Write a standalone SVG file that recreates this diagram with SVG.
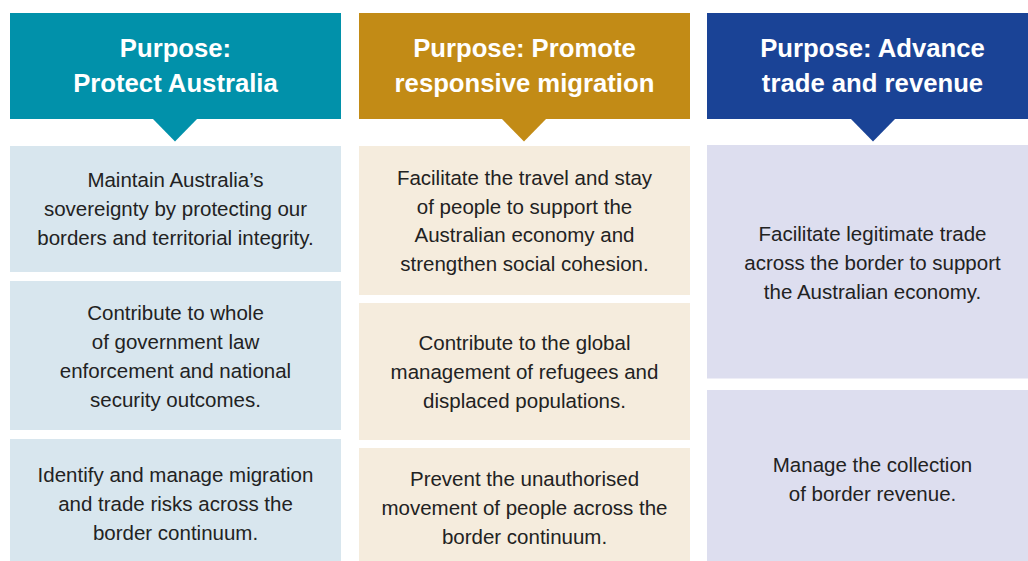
<svg xmlns="http://www.w3.org/2000/svg" width="1028" height="561" viewBox="0 0 1028 561">
  <style>
    .head { font-family: "Liberation Sans", Arial, sans-serif; font-weight: bold; font-size: 25.7px; fill: #ffffff; text-anchor: middle; }
    .body { font-family: "Liberation Sans", Arial, sans-serif; font-size: 20.5px; fill: #222222; text-anchor: middle; }
    .teal { fill: #0191AA; }
    .gold { fill: #C28B16; }
    .navy { fill: #1A4396; }
    .teal-lt { fill: #D8E6EE; }
    .gold-lt { fill: #F5ECDD; }
    .navy-lt { fill: #DDDEEF; }
  </style>
  <rect width="1028" height="561" fill="#ffffff"/>

  <!-- Column 1: Protect Australia -->
  <g id="purpose-protect">
    <rect class="teal" x="10" y="13" width="331" height="106"/>
    <polygon class="teal" points="152,118 198,118 175,141.5"/>
    <text class="head" x="175.5" y="57">Purpose:</text>
    <text class="head" x="175.5" y="92">Protect Australia</text>
  </g>
  <g id="protect-sovereignty">
    <rect class="teal-lt" x="10" y="146" width="331" height="126"/>
    <text class="body" x="175.5" y="187">Maintain Australia’s</text>
    <text class="body" x="175.5" y="216">sovereignty by protecting our</text>
    <text class="body" x="175.5" y="245">borders and territorial integrity.</text>
  </g>
  <g id="protect-security">
    <rect class="teal-lt" x="10" y="281" width="331" height="149"/>
    <text class="body" x="175.5" y="319.5">Contribute to whole</text>
    <text class="body" x="175.5" y="348.5">of government law</text>
    <text class="body" x="175.5" y="377.5">enforcement and national</text>
    <text class="body" x="175.5" y="406.5">security outcomes.</text>
  </g>
  <g id="protect-risks">
    <rect class="teal-lt" x="10" y="439" width="331" height="122"/>
    <text class="body" x="175.5" y="482">Identify and manage migration</text>
    <text class="body" x="175.5" y="511">and trade risks across the</text>
    <text class="body" x="175.5" y="540">border continuum.</text>
  </g>

  <!-- Column 2: Promote responsive migration -->
  <g id="purpose-migration">
    <rect class="gold" x="359" y="13" width="331" height="106"/>
    <polygon class="gold" points="501,118 547,118 524,141.5"/>
    <text class="head" x="524.5" y="57">Purpose: Promote</text>
    <text class="head" x="524.5" y="92">responsive migration</text>
  </g>
  <g id="migration-travel">
    <rect class="gold-lt" x="359" y="146" width="331" height="149"/>
    <text class="body" x="524.5" y="184.5">Facilitate the travel and stay</text>
    <text class="body" x="524.5" y="213.5">of people to support the</text>
    <text class="body" x="524.5" y="242">Australian economy and</text>
    <text class="body" x="524.5" y="271">strengthen social cohesion.</text>
  </g>
  <g id="migration-refugees">
    <rect class="gold-lt" x="359" y="303" width="331" height="137"/>
    <text class="body" x="524.5" y="350">Contribute to the global</text>
    <text class="body" x="524.5" y="379">management of refugees and</text>
    <text class="body" x="524.5" y="408">displaced populations.</text>
  </g>
  <g id="migration-unauthorised">
    <rect class="gold-lt" x="359" y="448" width="331" height="113"/>
    <text class="body" x="524.5" y="486">Prevent the unauthorised</text>
    <text class="body" x="524.5" y="515">movement of people across the</text>
    <text class="body" x="524.5" y="544">border continuum.</text>
  </g>

  <!-- Column 3: Advance trade and revenue -->
  <g id="purpose-trade">
    <rect class="navy" x="707" y="13" width="331" height="106"/>
    <polygon class="navy" points="850,118 896,118 873,141.5"/>
    <text class="head" x="872.5" y="57">Purpose: Advance</text>
    <text class="head" x="872.5" y="92">trade and revenue</text>
  </g>
  <g id="trade-legitimate">
    <rect class="navy-lt" x="707" y="145" width="331" height="233.5"/>
    <text class="body" x="872.5" y="241">Facilitate legitimate trade</text>
    <text class="body" x="872.5" y="270">across the border to support</text>
    <text class="body" x="872.5" y="299">the Australian economy.</text>
  </g>
  <g id="trade-revenue">
    <rect class="navy-lt" x="707" y="390" width="331" height="171"/>
    <text class="body" x="872.5" y="471.5">Manage the collection</text>
    <text class="body" x="872.5" y="500.5">of border revenue.</text>
  </g>

  <g id="connectors"/>
</svg>
